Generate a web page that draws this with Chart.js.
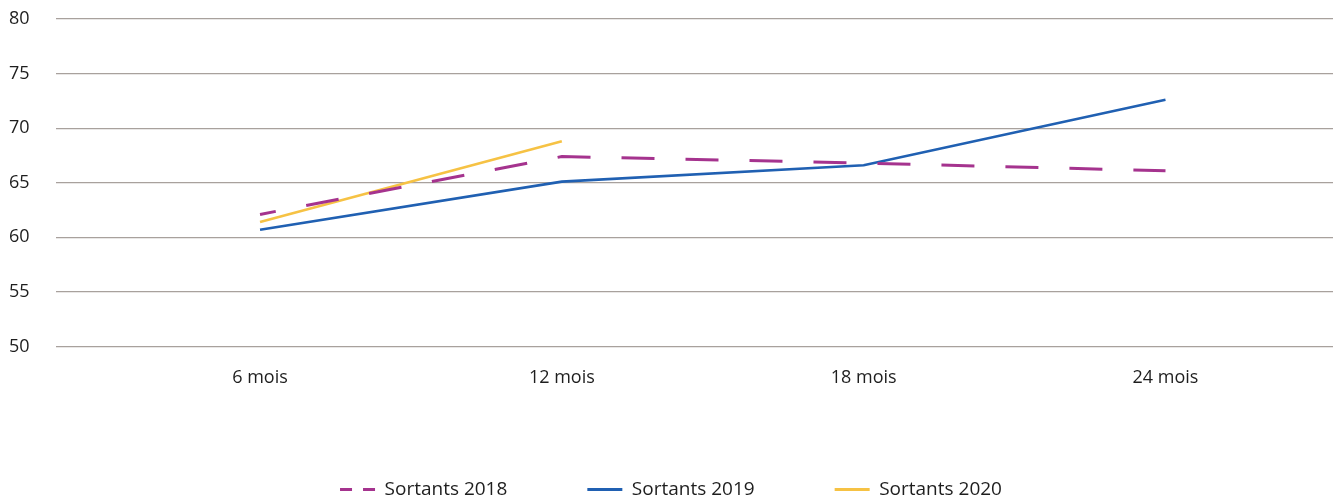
<!DOCTYPE html>
<html>
<head>
<meta charset="utf-8">
<script src="https://cdn.jsdelivr.net/npm/chart.js@4.4.1/dist/chart.umd.min.js"></script>
<style>
  html, body { margin: 0; padding: 0; background: #ffffff; }
  #wrap { width: 1338px; height: 499px; position: relative; }
</style>
</head>
<body>
<div id="wrap"><canvas id="c"></canvas></div>
<script>
const categories = ['6 mois', '12 mois', '18 mois', '24 mois'];
const seriesNames = ['Sortants 2018', 'Sortants 2019', 'Sortants 2020'];
const sortants2018 = [62.1, 67.4, 66.8, 66.1];
const sortants2019 = [60.7, 65.1, 66.6, 72.6];
const sortants2020 = [61.4, 68.8, null, null];
const yTicks = [50, 55, 60, 65, 70, 75, 80];

const toPoints = arr => arr.map((v, i) => ({ x: i, y: v })).filter(p => p.y !== null);

Chart.defaults.font.family = "'Open Sans', sans-serif";
Chart.defaults.color = '#1e1e1e';

const legendShift = {
  id: 'legendShift',
  afterLayout(chart) {
    if (chart.legend) { chart.legend.top += 10; chart.legend.bottom += 10; }
  }
};

new Chart(document.getElementById('c'), {
  type: 'line',
  data: {
    datasets: [
      {
        label: seriesNames[0],
        data: toPoints(sortants2018),
        borderColor: '#a5338e',
        backgroundColor: '#a5338e',
        borderWidth: 3,
        borderDash: [33, 31],
        borderDashOffset: 17,
        borderCapStyle: 'butt',
        pointRadius: 0,
        tension: 0
      },
      {
        label: seriesNames[1],
        data: toPoints(sortants2019),
        borderColor: '#2060b2',
        backgroundColor: '#2060b2',
        borderWidth: 2.6,
        borderCapStyle: 'butt',
        pointRadius: 0,
        tension: 0
      },
      {
        label: seriesNames[2],
        data: toPoints(sortants2020),
        borderColor: '#f6c244',
        backgroundColor: '#f6c244',
        borderWidth: 2.6,
        borderCapStyle: 'butt',
        pointRadius: 0,
        tension: 0
      }
    ]
  },
  plugins: [legendShift],
  options: {
    responsive: true,
    maintainAspectRatio: false,
    animation: false,
    layout: { padding: { left: 9, right: 5, top: 19, bottom: 0 } },
    scales: {
      x: {
        type: 'linear',
        min: -0.676,
        max: 3.555,
        afterBuildTicks: scale => { scale.ticks = categories.map((_, i) => ({ value: i })); },
        afterFit: scale => { scale.height = 43.5; },
        ticks: {
          autoSkip: false,
          maxRotation: 0,
          padding: 21,
          font: { size: 18 },
          color: '#1e1e1e',
          callback: v => categories[v]
        },
        grid: { display: false, drawTicks: false },
        border: { display: false }
      },
      y: {
        min: 50,
        max: 80,
        afterBuildTicks: scale => { scale.ticks = yTicks.map(v => ({ value: v })); },
        afterFit: scale => { scale.width = 47; },
        ticks: {
          padding: 0,
          crossAlign: 'far',
          font: { size: 18 },
          color: '#1e1e1e'
        },
        grid: { color: '#a8a19d', lineWidth: 1.3, drawTicks: false },
        border: { display: false }
      }
    },
    plugins: {
      tooltip: { enabled: false },
      legend: {
        position: 'bottom',
        labels: {
          usePointStyle: true,
          pointStyle: 'line',
          pointStyleWidth: 35,
          padding: 80,
          font: { size: 19 },
          color: '#1e1e1e',
          generateLabels: chart => {
            const items = Chart.defaults.plugins.legend.labels.generateLabels(chart);
            return items.map((it, i) => {
              it.lineWidth = 3;
              it.lineDash = i === 0 ? [12, 11] : [];
              it.lineDashOffset = 0;
              it.lineCap = 'butt';
              it.pointStyle = 'line';
              return it;
            });
          }
        }
      }
    }
  }
});
</script>
</body>
</html>
